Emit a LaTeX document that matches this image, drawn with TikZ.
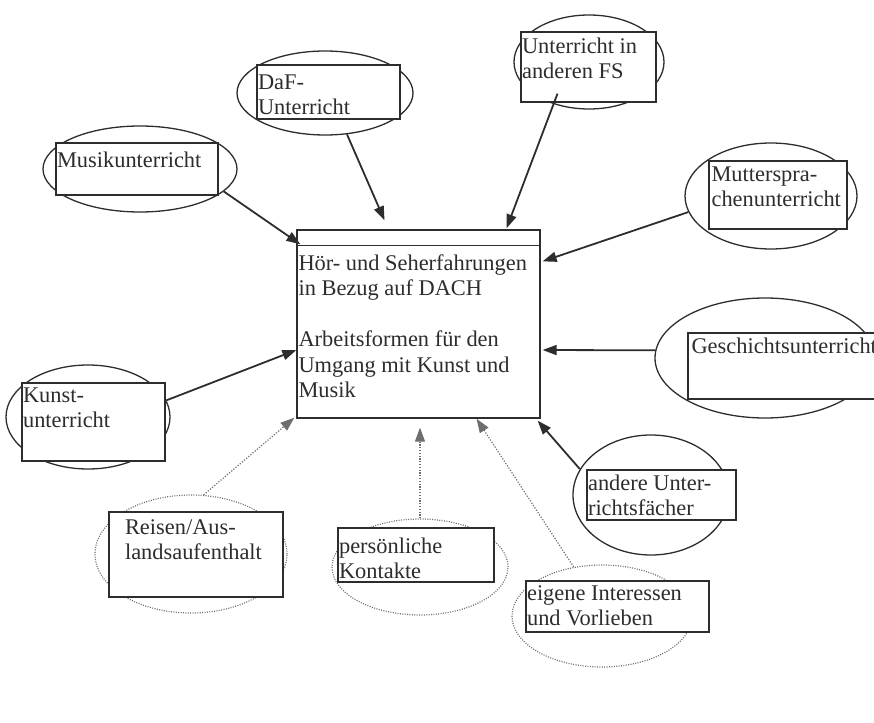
\documentclass[tikz,border=0pt]{standalone}
\usepackage{fontspec}
\setmainfont{Liberation Serif}
\usetikzlibrary{shapes.geometric,arrows.meta,calc}
\definecolor{inkgray}{RGB}{45,45,45}
\definecolor{dotgray}{RGB}{110,110,110}
\tikzset{
    oval/.style={ellipse, draw=inkgray, line width=1.3pt, inner sep=0pt},
    dotoval/.style={ellipse, draw=dotgray, line width=1.2pt,
                    dash pattern=on 1pt off 1.4pt, inner sep=0pt},
    fachbox/.style={draw=inkgray, line width=1.3pt, fill=white, inner sep=0pt},
    txt/.style={anchor=north west, inner xsep=1.5pt, inner ysep=5pt,
                align=left, text=inkgray, font=\fontsize{22.4}{25.5}\selectfont},
}

\begin{document}
\begin{tikzpicture}[
    x=1pt, y=-1pt,
    arr/.style={-{Triangle[length=14pt,width=10pt]}, line width=1.8pt, draw=inkgray},
    darr/.style={-{Triangle[length=14pt,width=10pt]}, line width=1.2pt, draw=dotgray,
                 dash pattern=on 1.2pt off 1.6pt}
]
    \useasboundingbox (0,0) rectangle (874,722);
    % ovals behind the boxes
    \node[oval, minimum width=194pt, minimum height=86pt] (musikO) at (140,169) {};
    \node[oval, minimum width=176pt, minimum height=84pt] (dafO) at (325,93) {};
    \node[oval, minimum width=150pt, minimum height=94pt] (fsO) at (589,62) {};
    \node[oval, minimum width=172pt, minimum height=106pt] (mutterO) at (771,196) {};
    \node[oval, minimum width=220pt, minimum height=120pt] (geschO) at (765,358) {};
    \node[oval, minimum width=156pt, minimum height=120pt] (andereO) at (651,495) {};
    \node[oval, minimum width=164pt, minimum height=104pt] (kunstO) at (88,417) {};
    \node[dotoval, minimum width=180pt, minimum height=102pt] (eigeneO) at (602,616) {};
    \node[dotoval, minimum width=176pt, minimum height=96pt] (persO) at (420,567) {};
    \node[dotoval, minimum width=192pt, minimum height=118pt] (reisenO) at (191,554) {};
    % boxes
    \node[fachbox, minimum width=162pt, minimum height=52pt,
          label={[txt, yshift=-4pt]north west:Musikunterricht}] (musik) at (137,169) {};
    \node[fachbox, minimum width=143pt, minimum height=54pt,
          label={[txt, yshift=-5pt]north west:{DaF-\\Unterricht}}] (daf) at (328.5,92) {};
    \node[fachbox, minimum width=135pt, minimum height=70pt,
          label={[txt, yshift=-1pt]north west:{Unterricht in\\anderen FS}}] (fs) at (588.5,67) {};
    \node[fachbox, minimum width=138pt, minimum height=68pt,
          label={[txt, yshift=-1pt, xshift=1.5pt]north west:{Mutterspra-\\chenunterricht}}] (mutter) at (778,195) {};
    \node[fachbox, minimum width=200pt, minimum height=66pt,
          label={[txt, xshift=2.5pt]north west:Geschichtsunterricht}] (gesch) at (788,366) {};
    \node[fachbox, minimum width=149pt, minimum height=50pt,
          label={[txt]north west:{andere Unter-\\richtsfächer}}] (andere) at (661.5,495) {};
    \node[fachbox, minimum width=183pt, minimum height=51pt,
          label={[txt]north west:{eigene Interessen\\und Vorlieben}}] (eigene) at (617.5,606.5) {};
    \node[fachbox, minimum width=156pt, minimum height=54pt,
          label={[txt, yshift=-5pt]north west:{persönliche\\Kontakte}}] (pers) at (416,555) {};
    \node[fachbox, minimum width=174pt, minimum height=85pt,
          label={[txt, yshift=-3pt, xshift=15pt]north west:{Reisen/Aus-\\landsaufenthalt}}] (reisen) at (196,554.5) {};
    \node[fachbox, minimum width=143pt, minimum height=78pt,
          label={[txt]north west:{Kunst-\\unterricht}}] (kunst) at (93.5,422) {};
    % centre
    \node[fachbox, minimum width=243pt, minimum height=188pt,
          label={[txt, yshift=-20pt, xshift=0.5pt]north west:{Hör- und Seherfahrungen\\in Bezug auf DACH\\[25.5pt]Arbeitsformen für den\\Umgang mit Kunst und\\Musik}}] (dach) at (418.5,324) {};
    \draw[line width=1.3pt, inkgray] ($(dach.north west)+(0,16)$) -- ($(dach.north east)+(0,16)$);
    % arrows
    \draw[arr] (musikO.-15) -- ($(dach.north west)+(4,15)$);
    \draw[arr] (dafO.-62) -- ($(dach.north)+(-34,-9)$);
    \draw[arr] ($(fs.south)+(-31,-9)$) -- ($(dach.north)+(88,-1)$);
    \draw[arr] (mutterO.191) -- ($(dach.north east)+(2,32)$);
    \draw[arr] (geschO.176) -- ($(dach.east)+(2,26)$);
    \draw[arr] (andereO.160) -- ($(dach.south east)+(-3,2)$);
    \draw[arr] (kunstO.12) -- ($(dach.west)+(0,26)$);
    \draw[darr] (eigeneO.120) -- ($(dach.south)+(58,0)$);
    \draw[darr, shorten >=9pt] (persO.north) -- (persO.north |- dach.south);
    \draw[darr] (reisenO.78) -- ($(dach.south west)+(-2,-1)$);
\end{tikzpicture}
\end{document}
